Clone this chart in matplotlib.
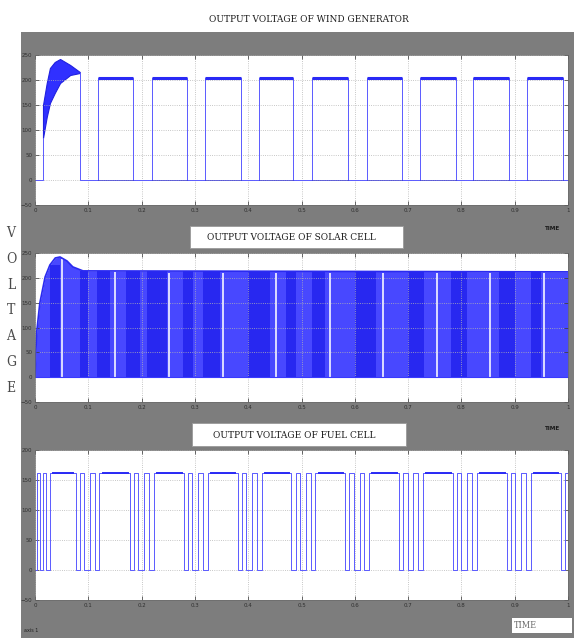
import numpy as np
import matplotlib
matplotlib.use('Agg')
import matplotlib.pyplot as plt
from matplotlib.patches import Rectangle

# ---------------- data ----------------
x_ticks = [0, 0.1, 0.2, 0.3, 0.4, 0.5, 0.6, 0.7, 0.8, 0.9, 1.0]
x_tick_labels = ['0', '0.1', '0.2', '0.3', '0.4', '0.5', '0.6', '0.7', '0.8', '0.9', '1']

# wind generator
wind_y_ticks = [-50, 0, 50, 100, 150, 200, 250]
wind_low = 0
wind_high = 205
wind_tr_t = [0.015, 0.022, 0.028, 0.037, 0.047, 0.066, 0.084]
wind_tr_upper = [150, 194, 224, 236, 242, 230, 216]
wind_tr_lower = [84, 126, 154, 174, 194, 210, 214]
wind_rise = [0.118, 0.219, 0.319, 0.420, 0.519, 0.623, 0.722, 0.822, 0.923]
wind_fall = [0.184, 0.285, 0.386, 0.484, 0.587, 0.689, 0.790, 0.889, 0.991]

# solar cell
solar_y_ticks = [-50, 0, 50, 100, 150, 200, 250]
solar_low = 0
solar_env_t = [0, 0.003, 0.009, 0.019, 0.028, 0.038, 0.047, 0.060, 0.071, 0.090, 1.0]
solar_env_v = [0, 89, 149, 202, 226, 240, 242, 234, 222, 214, 212]
solar_gaps = [0.050, 0.150, 0.251, 0.352, 0.452, 0.553, 0.653, 0.754, 0.854, 0.955]
solar_dark = [(0.028, 0.047), (0.084, 0.100), (0.116, 0.141), (0.170, 0.197),
              (0.210, 0.248), (0.278, 0.296), (0.315, 0.347), (0.400, 0.440),
              (0.470, 0.490), (0.520, 0.545), (0.600, 0.640), (0.700, 0.730),
              (0.780, 0.810), (0.870, 0.900), (0.930, 0.950)]

# fuel cell
fuel_y_ticks = [-50, 0, 50, 100, 150, 200]
fuel_low = 0
fuel_high = 162
fuel_first_edges = [0.004, 0.010, 0.015, 0.020, 0.028]
fuel_cluster_start = [0.076, 0.178, 0.279, 0.380, 0.481, 0.582, 0.683, 0.784, 0.885, 0.986]
fuel_cluster_offsets = [0, 0.008, 0.016, 0.027, 0.036, 0.045]

# ---------------- styling ----------------
GRAY = '#7d7d7d'
LINE = '#5a5aff'
DARK = '#2a2af5'
W, H = 574, 638

fig = plt.figure(figsize=(W / 100, H / 100), dpi=100)
fig.patch.set_facecolor('white')
bg = Rectangle((21 / W, 0), 553 / W, (H - 32) / H, transform=fig.transFigure,
               facecolor=GRAY, edgecolor='none', zorder=-5)
fig.patches.append(bg)

def mk_axes(top, bottom):
    ax = fig.add_axes([35 / W, 1 - bottom / H, 533 / W, (bottom - top) / H])
    ax.set_zorder(2)
    ax.set_facecolor('white')
    ax.set_xlim(0, 1)
    ax.set_xticks(x_ticks)
    ax.set_xticklabels(x_tick_labels)
    ax.tick_params(direction='in', length=3, width=0.5, colors='#303030',
                   labelsize=4, pad=2, top=True, right=True)
    ax.grid(True, linestyle=':', color='#b4b4b4', linewidth=0.6)
    for s in ax.spines.values():
        s.set_color('#6a6a6a')
        s.set_linewidth(0.5)
    return ax

# ---- wind ----
ax1 = mk_axes(55, 205)
ax1.set_ylim(wind_y_ticks[0], wind_y_ticks[-1])
ax1.set_yticks(wind_y_ticks)
ax1.plot([0, wind_tr_t[0], wind_tr_t[0]], [wind_low, wind_low, wind_tr_lower[0]],
         color=LINE, lw=0.7)
wt = [wind_tr_t[-1], wind_tr_t[-1]]
wv = [wind_tr_lower[-1], wind_low]
for r, f in zip(wind_rise, wind_fall):
    wt += [r, r, f, f]
    wv += [wind_low, wind_high, wind_high, wind_low]
wt.append(1.0)
wv.append(wind_low)
ax1.plot(wt, wv, color=LINE, lw=0.7)
ax1.fill_between(wind_tr_t, wind_tr_lower, wind_tr_upper, color='#3030ff', lw=0.8,
                 edgecolor='#2020e0')
for r, f in zip(wind_rise, wind_fall):
    ax1.plot([r, f], [wind_high, wind_high], color=DARK, lw=2.2, solid_capstyle='butt')
    ax1.plot([r, f], [wind_low, wind_low], color='#2a2ad0', lw=0.5)

# ---- solar ----
ax2 = mk_axes(253, 402)
ax2.set_ylim(solar_y_ticks[0], solar_y_ticks[-1])
ax2.set_yticks(solar_y_ticks)
ax2.fill_between(solar_env_t, solar_low, solar_env_v, color='#4848ff', lw=0)
for a, b in solar_dark:
    top = min(np.interp(a, solar_env_t, solar_env_v), np.interp(b, solar_env_t, solar_env_v))
    ax2.fill_between([a, b], solar_low, top, color='#2828f0', lw=0)
gap_tops = [np.interp(g, solar_env_t, solar_env_v) - 3 for g in solar_gaps]
ax2.vlines(solar_gaps, solar_low, gap_tops, color='#e8e8ff', lw=1.3)
ax2.plot(solar_env_t, solar_env_v, color='#2a2af0', lw=1.2)
ax2.plot([0, 1], [solar_low, solar_low], color='#3a3aff', lw=0.8)

# ---- fuel ----
ax3 = mk_axes(450, 600)
ax3.set_ylim(fuel_y_ticks[0], fuel_y_ticks[-1])
ax3.set_yticks(fuel_y_ticks)
edges = list(fuel_first_edges) + [s + o for s in fuel_cluster_start for o in fuel_cluster_offsets]
edges = [e for e in edges if e < 1.0]
ft, fv = [0], [fuel_low]
state = fuel_low
for e in edges:
    ft += [e, e]
    new = fuel_high if state == fuel_low else fuel_low
    fv += [state, new]
    state = new
ft.append(1.0)
fv.append(state)
ax3.plot(ft, fv, color=LINE, lw=0.7)
long_start = [fuel_first_edges[-1]] + [s + fuel_cluster_offsets[-1] for s in fuel_cluster_start[:-1]]
long_end = fuel_cluster_start
for a, b in zip(long_start, long_end):
    ax3.plot([a + 0.006, b - 0.004], [fuel_high, fuel_high], color=DARK, lw=1.4)

# ---------------- texts ----------------
tfont = dict(family=['DejaVu Serif'], fontstretch='condensed', color='#1a1a1a')
fig.text(309 / W, 1 - 20 / H, 'OUTPUT VOLTAGE OF WIND GENERATOR', ha='center', va='center',
         fontsize=7.2, **tfont)
fig.patches.append(Rectangle((190 / W, 1 - 248 / H), 213 / W, 22 / H, transform=fig.transFigure,
                             facecolor='white', edgecolor='#9a9a9a', lw=0.6, zorder=1))
fig.text(291 / W, 1 - 237 / H, 'OUTPUT VOLTAGE OF SOLAR CELL', ha='center', va='center',
         fontsize=7.2, **tfont)
fig.patches.append(Rectangle((192 / W, 1 - 446 / H), 214 / W, 23 / H, transform=fig.transFigure,
                             facecolor='white', edgecolor='#9a9a9a', lw=0.6, zorder=1))
fig.text(294 / W, 1 - 435 / H, 'OUTPUT VOLTAGE OF FUEL CELL', ha='center', va='center',
         fontsize=7.2, **tfont)

for yy in (228, 429):
    fig.text(553 / W, 1 - yy / H, 'TIME', ha='center', va='center', fontsize=4.5,
             fontweight='bold', family=['DejaVu Sans'], fontstretch='condensed', color='#1a1a1a')
fig.patches.append(Rectangle((512 / W, 1 - 633 / H), 60 / W, 15 / H, transform=fig.transFigure,
                             facecolor='white', edgecolor='none', zorder=1))
fig.text(525 / W, 1 - 626 / H, 'TIME', ha='center', va='center', fontsize=6.5,
         family=['DejaVu Serif'], fontstretch='condensed', color='#6a6a6a')
fig.text(24 / W, 1 - 631 / H, 'axis 1', ha='left', va='center', fontsize=3.5,
         color='#202020', family=['DejaVu Sans'])

for i, ch in enumerate('VOLTAGE'):
    fig.text(11 / W, 1 - (233 + i * 25.8) / H, ch, ha='center', va='center', fontsize=10,
             family=['DejaVu Serif'], fontstretch='condensed', color='#4a4a4a')

fig.savefig('out.png', dpi=100)
